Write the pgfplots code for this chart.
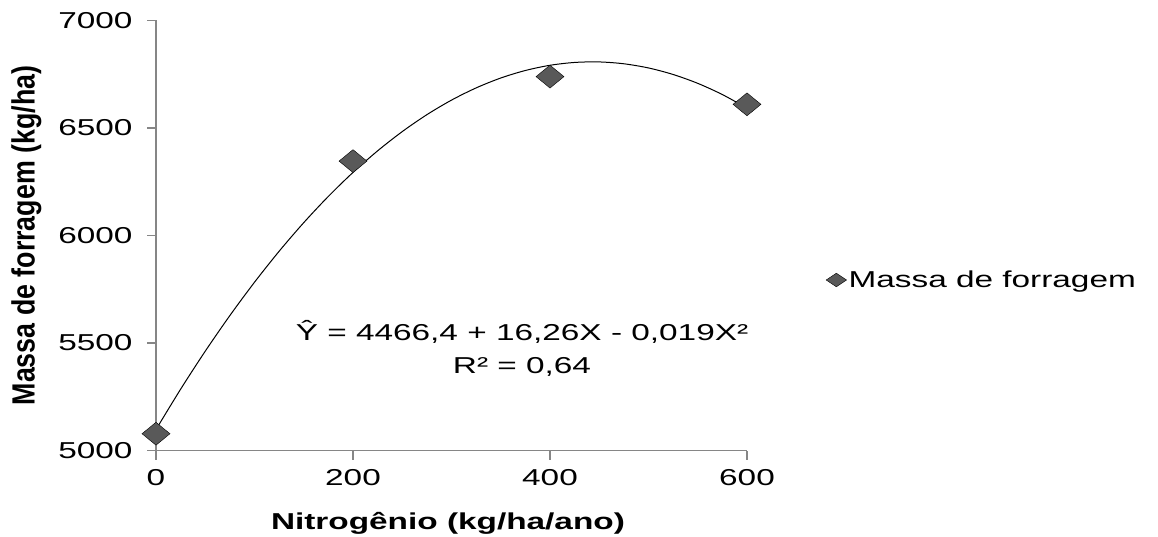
\documentclass[border=0pt]{standalone}
\usepackage{pgfplots}
\pgfplotsset{compat=1.18}
\usepackage{pgfplotstable}
\usepackage{graphicx}
\usepackage{fontspec}
\setmainfont{Liberation Sans}[FakeStretch=1.45]
\newfontfamily\uprightsans{Liberation Sans}

\definecolor{axisgray}{HTML}{868686}
\definecolor{markgray}{HTML}{595959}

% observed forage mass per nitrogen rate
\pgfplotstableread{
x y
0   5078
200 6346
400 6739
600 6610
}\massdata

% quadratic trend line
\pgfplotstableread{
x y
0   5097.6
25  5285.2
50  5461.9
75  5627.7
100 5782.6
125 5926.7
150 6059.8
175 6182.0
200 6293.4
225 6393.8
250 6483.3
275 6562.0
300 6629.7
325 6686.5
350 6732.5
375 6767.5
400 6791.7
425 6804.9
450 6807.3
475 6798.7
500 6779.3
525 6748.9
550 6707.7
575 6655.5
600 6592.5
}\trenddata

\begin{document}
\begin{tikzpicture}[x=1pt,y=1pt]
\useasboundingbox (0,0) rectangle (1158,536);
\begin{axis}[
  at={(156pt,85.5pt)}, anchor=south west,
  scale only axis, width=591pt, height=430pt,
  xmin=0, xmax=600, ymin=5000, ymax=7000,
  xtick={0,200,400,600}, ytick={5000,5500,6000,6500,7000},
  axis x line*=bottom, axis y line*=left,
  axis line style={axisgray, line width=1.3pt, -},
  tick style={axisgray, line width=1.3pt},
  tick align=outside, major tick length=9pt,
  scaled ticks=false,
  /pgf/number format/1000 sep={},
  /pgf/number format/assume math mode=true,
  tick label style={font=\fontsize{23}{27}\selectfont, text=black},
  yticklabel style={xshift=-11pt},
  xticklabel style={yshift=-6pt},
  clip=false,
  xlabel={Nitrogênio (kg/ha/ano)},
  xlabel style={font=\bfseries\fontsize{23}{27}\selectfont, at={(rel axis cs:0.494,-0.1686)}, anchor=center},
  ylabel={\scalebox{1.2}[1]{\rotatebox{90}{\uprightsans\bfseries\fontsize{26.8}{30}\selectfont Massa de forragem (kg/ha)}}},
  ylabel style={rotate=-90, at={(rel axis cs:-0.2195,0.5)}, anchor=center},
  legend style={draw=none, fill=none, at={(rel axis cs:1.1337,0.3965)}, anchor=west,
    inner sep=0pt, font=\fontsize{23}{27}\selectfont},
  legend cell align=left,
  legend image code/.code={\draw[#1, mark size=4.8pt, mark options={fill=markgray, draw=none, xscale=1.5, rotate=45}] plot coordinates {(11pt,0pt)};},
]
\addplot[only marks, mark=square*, mark size=8.1pt,
  mark options={fill=markgray, draw=none, xscale=1.22, rotate=45}]
  table {\massdata};
\addlegendentry{Massa de forragem}
\addplot[black, line width=1pt, no marks, smooth, forget plot] table {\trenddata};
\node[align=center, font=\fontsize{23}{33}\selectfont] at (axis cs:371.6,5476.7)
  {Ŷ = 4466,4 + 16,26X - 0,019X²\\R² = 0,64};
\end{axis}
\end{tikzpicture}
\end{document}
